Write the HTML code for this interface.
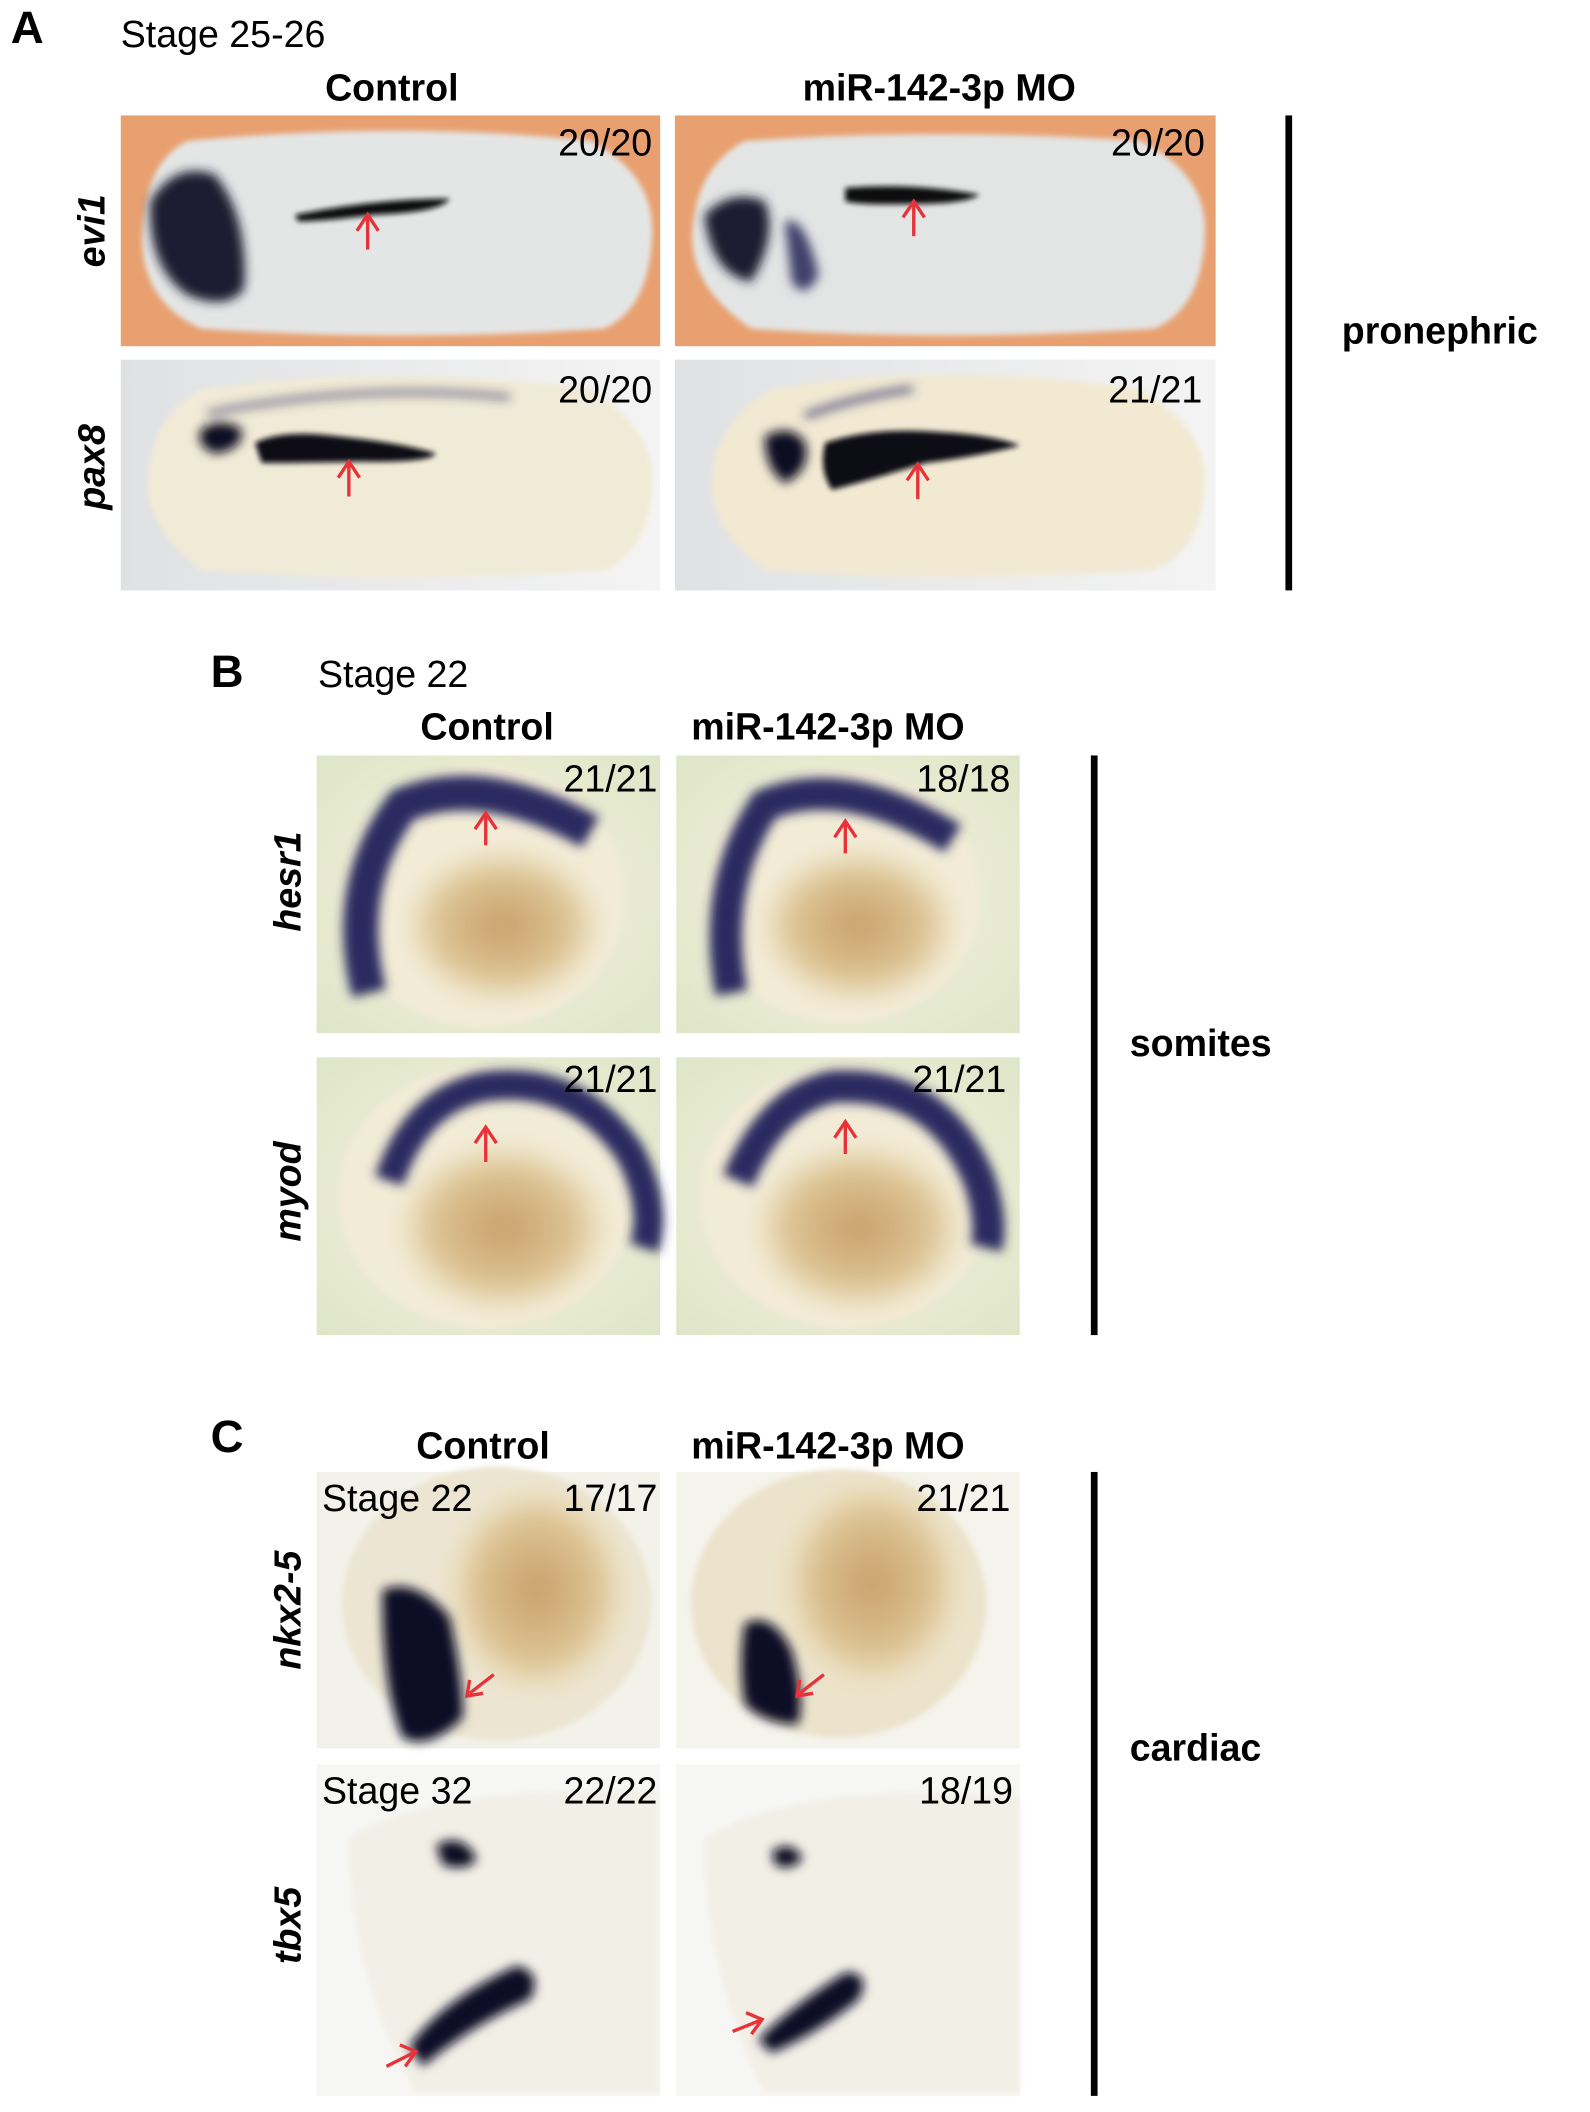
<!DOCTYPE html>
<html><head><meta charset="utf-8"><style>
html,body{margin:0;padding:0;background:#fff;}
svg{display:block}
text{font-family:"Liberation Sans",Arial,sans-serif;}
</style></head><body>
<svg width="1590" height="2112" viewBox="0 0 1185 1574" xmlns="http://www.w3.org/2000/svg">
<defs>
<filter id="b4"><feGaussianBlur stdDeviation="4"/></filter>
<filter id="b2"><feGaussianBlur stdDeviation="2"/></filter>
<filter id="b8"><feGaussianBlur stdDeviation="8"/></filter>
<linearGradient id="gA2" x1="0" y1="0" x2="1" y2="0"><stop offset="0" stop-color="#dfe1e3"/><stop offset="1" stop-color="#f4f4f4"/></linearGradient>
<radialGradient id="gB" cx="0.5" cy="0.5" r="0.7"><stop offset="0" stop-color="#f6f4df"/><stop offset="1" stop-color="#dfe5c8"/></radialGradient>
<radialGradient id="yolk" cx="0.5" cy="0.5" r="0.5"><stop offset="0" stop-color="#c9a06a"/><stop offset="0.7" stop-color="#dcc393"/><stop offset="1" stop-color="#efe5c8"/></radialGradient>
<marker id="ar" markerWidth="6" markerHeight="6" refX="3" refY="3" orient="auto"><path d="M0,0 L6,3 L0,6 L2,3 z" fill="#e8323a"/></marker>
</defs>

<!-- Panel A -->
<text x="8" y="32" font-size="34" font-weight="bold">A</text>
<text x="90" y="35" font-size="28">Stage 25-26</text>
<text x="292" y="75" font-size="28" font-weight="bold" text-anchor="middle">Control</text>
<text x="700" y="75" font-size="28" font-weight="bold" text-anchor="middle">miR-142-3p MO</text>

<rect x="90" y="86" width="402" height="172" fill="#e8a070"/>
<rect x="503" y="86" width="403" height="172" fill="#e8a070"/>
<rect x="90" y="268" width="402" height="172" fill="url(#gA2)"/>
<rect x="503" y="268" width="403" height="172" fill="url(#gA2)"/>

<g filter="url(#b2)">
<path d="M140,105 Q300,90 440,105 Q488,130 486,175 Q484,230 450,245 Q300,255 150,245 Q105,225 106,175 Q108,120 140,105z" fill="#e4e6e6"/>
<path d="M555,105 Q700,95 850,105 Q900,130 898,175 Q896,230 860,245 Q700,255 560,245 Q515,215 516,175 Q518,125 555,105z" fill="#e3e5e5"/>
<path d="M150,290 Q300,270 440,290 Q488,320 486,360 Q484,410 450,425 Q300,435 150,425 Q110,395 110,360 Q112,310 150,290z" fill="#f1ead6"/>
<path d="M575,290 Q700,268 850,290 Q900,320 898,360 Q896,410 860,425 Q700,435 570,425 Q530,395 530,360 Q532,315 575,290z" fill="#f1e9d2"/>
</g>
<g filter="url(#b4)">
<path d="M112,150 Q130,120 160,130 Q185,160 182,215 Q170,232 140,220 Q110,200 112,150z" fill="#1a1a30"/>
<path d="M525,160 Q545,140 570,150 Q580,175 560,210 Q530,205 525,160z" fill="#1a1a30"/>
<path d="M585,165 Q600,160 610,205 Q600,225 590,210z" fill="#40406a"/>
<path d="M150,320 Q165,310 180,320 Q182,335 160,338 Q145,332 150,320z" fill="#0c0c20"/>
<path d="M570,325 Q590,315 600,330 Q605,350 585,360 Q570,350 570,325z" fill="#0c0c20"/>
<path d="M155,308 Q270,285 380,296" stroke="#3a3a70" stroke-width="3" fill="none"/>
<path d="M600,310 Q640,295 680,290" stroke="#3a3a70" stroke-width="4" fill="none"/>
</g>
<g filter="url(#b2)">
<path d="M220,160 Q280,148 335,148 Q330,158 280,160 Q240,165 222,165z" fill="#111"/>
<path d="M630,140 Q680,136 730,145 Q720,152 680,152 Q640,153 630,150z" fill="#111"/>
<path d="M190,330 Q210,320 250,325 Q300,330 325,338 Q320,345 270,344 Q220,345 195,345z" fill="#080818"/>
<path d="M615,330 Q650,318 700,322 Q740,324 760,332 Q730,340 690,345 Q640,360 620,365 Q610,350 615,330z" fill="#080818"/>
</g>
<g stroke="#e8323a" stroke-width="2.5" fill="none">
<line x1="274" y1="186" x2="274" y2="162"/><path d="M266,172 L274,160 L282,172"/>
<line x1="681" y1="176" x2="681" y2="150"/><path d="M673,162 L681,150 L689,162"/>
<line x1="260" y1="370" x2="260" y2="345"/><path d="M252,356 L260,344 L268,356"/>
<line x1="684" y1="372" x2="684" y2="346"/><path d="M676,358 L684,346 L692,358"/>
</g>
<g font-size="28" text-anchor="end">
<text x="486" y="116">20/20</text><text x="898" y="116">20/20</text>
<text x="486" y="300">20/20</text><text x="896" y="300">21/21</text>
</g>
<text transform="translate(78,172) rotate(-90)" font-size="28" font-weight="bold" font-style="italic" text-anchor="middle">evi1</text>
<text transform="translate(78,348) rotate(-90)" font-size="28" font-weight="bold" font-style="italic" text-anchor="middle">pax8</text>
<rect x="958" y="86" width="5" height="354" fill="#000"/>
<text x="1000" y="256" font-size="28" font-weight="bold">pronephric</text>

<!-- Panel B -->
<text x="157" y="512" font-size="34" font-weight="bold">B</text>
<text x="237" y="512" font-size="28">Stage 22</text>
<text x="363" y="551" font-size="28" font-weight="bold" text-anchor="middle">Control</text>
<text x="617" y="551" font-size="28" font-weight="bold" text-anchor="middle">miR-142-3p MO</text>
<rect x="236" y="563" width="256" height="207" fill="url(#gB)"/>
<rect x="504" y="563" width="256" height="207" fill="url(#gB)"/>
<rect x="236" y="788" width="256" height="207" fill="url(#gB)"/>
<rect x="504" y="788" width="256" height="207" fill="url(#gB)"/>
<g filter="url(#b2)">
<ellipse cx="360" cy="668" rx="105" ry="98" fill="#f2ebd6"/>
<ellipse cx="628" cy="668" rx="102" ry="95" fill="#f2ebd6"/>
<ellipse cx="362" cy="892" rx="110" ry="98" fill="#f2ebd6"/>
<ellipse cx="630" cy="892" rx="108" ry="98" fill="#f2ebd6"/>
</g>
<g filter="url(#b8)">
<ellipse cx="375" cy="690" rx="70" ry="55" fill="url(#yolk)"/>
<ellipse cx="640" cy="690" rx="70" ry="55" fill="url(#yolk)"/>
<ellipse cx="375" cy="915" rx="75" ry="60" fill="url(#yolk)"/>
<ellipse cx="640" cy="915" rx="75" ry="60" fill="url(#yolk)"/>
</g>
<g filter="url(#b4)" fill="none" stroke="#2a2a60">
<path d="M275,740 Q255,660 300,600 Q360,575 440,620" stroke-width="26"/>
<path d="M545,740 Q530,660 570,600 Q630,575 710,625" stroke-width="24"/>
<path d="M290,880 Q310,820 360,810 Q430,800 470,860 Q490,900 480,930" stroke-width="22"/>
<path d="M550,880 Q575,820 620,810 Q700,805 730,880 Q740,910 735,930" stroke-width="24"/>
</g>
<g stroke="#e8323a" stroke-width="2.5" fill="none">
<line x1="362" y1="630" x2="362" y2="608"/><path d="M354,618 L362,606 L370,618"/>
<line x1="630" y1="636" x2="630" y2="612"/><path d="M622,624 L630,612 L638,624"/>
<line x1="362" y1="866" x2="362" y2="840"/><path d="M354,852 L362,840 L370,852"/>
<line x1="630" y1="860" x2="630" y2="836"/><path d="M622,848 L630,836 L638,848"/>
</g>
<g font-size="28" text-anchor="end">
<text x="490" y="590">21/21</text><text x="753" y="590">18/18</text>
<text x="490" y="814">21/21</text><text x="750" y="814">21/21</text>
</g>
<text transform="translate(224,657) rotate(-90)" font-size="28" font-weight="bold" font-style="italic" text-anchor="middle">hesr1</text>
<text transform="translate(224,888) rotate(-90)" font-size="28" font-weight="bold" font-style="italic" text-anchor="middle">myod</text>
<rect x="813" y="563" width="5" height="432" fill="#000"/>
<text x="842" y="787" font-size="28" font-weight="bold">somites</text>

<!-- Panel C -->
<text x="157" y="1082" font-size="34" font-weight="bold">C</text>
<text x="360" y="1087" font-size="28" font-weight="bold" text-anchor="middle">Control</text>
<text x="617" y="1087" font-size="28" font-weight="bold" text-anchor="middle">miR-142-3p MO</text>
<rect x="236" y="1097" width="256" height="206" fill="#f2f2ea"/>
<rect x="504" y="1097" width="256" height="206" fill="#f4f3ec"/>
<rect x="236" y="1315" width="256" height="247" fill="#f6f6f4"/>
<rect x="504" y="1315" width="256" height="247" fill="#f6f6f4"/>
<g filter="url(#b2)">
<ellipse cx="370" cy="1195" rx="115" ry="102" fill="#ece5d2"/>
<ellipse cx="625" cy="1195" rx="110" ry="100" fill="#ece3cc"/>
<path d="M260,1370 Q320,1330 490,1335 L490,1560 L310,1560 Q260,1470 260,1370z" fill="#f2efe6"/>
<path d="M525,1370 Q600,1325 760,1340 L760,1560 L570,1560 Q525,1470 525,1370z" fill="#f2efe6"/>
</g>
<g filter="url(#b8)">
<ellipse cx="400" cy="1185" rx="65" ry="75" fill="url(#yolk)"/>
<ellipse cx="650" cy="1180" rx="65" ry="75" fill="url(#yolk)"/>
</g>
<g filter="url(#b4)">
<path d="M285,1185 Q310,1175 335,1205 Q345,1250 345,1280 Q320,1305 300,1295 Q285,1260 285,1185z" fill="#0c0c28"/>
<path d="M555,1210 Q575,1200 590,1230 Q600,1265 595,1285 Q570,1285 555,1270 Q550,1240 555,1210z" fill="#0c0c28"/>
<path d="M325,1375 Q345,1365 355,1385 Q350,1395 330,1390z" fill="#0c0c20"/>
<path d="M575,1380 Q590,1370 598,1385 Q590,1395 578,1390z" fill="#0c0c20"/>
<path d="M305,1525 Q330,1490 385,1465 Q405,1470 395,1490 Q350,1510 315,1540z" fill="#0c0c28"/>
<path d="M565,1520 Q590,1495 630,1470 Q650,1470 640,1490 Q610,1515 575,1530z" fill="#0c0c28"/>
</g>
<g stroke="#e8323a" stroke-width="2.5" fill="none">
<line x1="368" y1="1248" x2="350" y2="1262"/><path d="M350,1252 L348,1264 L360,1262"/>
<line x1="614" y1="1248" x2="596" y2="1262"/><path d="M596,1252 L594,1264 L606,1262"/>
<line x1="288" y1="1540" x2="308" y2="1530"/><path d="M298,1524 L310,1529 L302,1540"/>
<line x1="546" y1="1514" x2="566" y2="1506"/><path d="M556,1500 L568,1505 L560,1516"/>
</g>
<text x="240" y="1126" font-size="28">Stage 22</text>
<text x="490" y="1126" font-size="28" text-anchor="end">17/17</text>
<text x="753" y="1126" font-size="28" text-anchor="end">21/21</text>
<text x="240" y="1344" font-size="28">Stage 32</text>
<text x="490" y="1344" font-size="28" text-anchor="end">22/22</text>
<text x="755" y="1344" font-size="28" text-anchor="end">18/19</text>
<text transform="translate(224,1200) rotate(-90)" font-size="28" font-weight="bold" font-style="italic" text-anchor="middle">nkx2-5</text>
<text transform="translate(224,1435) rotate(-90)" font-size="28" font-weight="bold" font-style="italic" text-anchor="middle">tbx5</text>
<rect x="813" y="1097" width="5" height="465" fill="#000"/>
<text x="842" y="1312" font-size="28" font-weight="bold">cardiac</text>
</svg>
</body></html>
